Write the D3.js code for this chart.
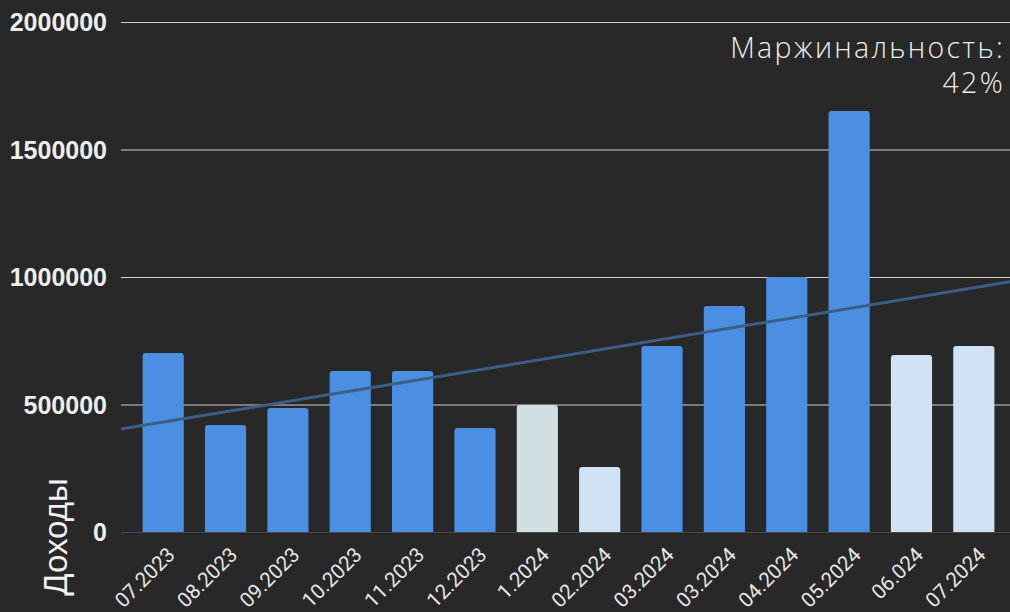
<!DOCTYPE html>
<html><head><meta charset="utf-8">
<script src="https://cdn.jsdelivr.net/npm/d3@7"></script>
<style>
html,body{margin:0;padding:0;background:#282828;}
svg{display:block;}
</style></head>
<body>
<svg id="chart" width="1010" height="612"></svg>
<script>
const categories = ["07.2023","08.2023","09.2023","10.2023","11.2023","12.2023","1.2024","02.2024","03.2024","03.2024","04.2024","05.2024","06.024","07.2024"];
const values = [702000,420000,486000,631000,631000,408000,498000,255000,729000,886000,1000000,1651000,694000,729000];
const barColors = ["#4a8fe2","#4a8fe2","#4a8fe2","#4a8fe2","#4a8fe2","#4a8fe2","#d1dfe3","#cfe2f3","#4a8fe2","#4a8fe2","#4a8fe2","#4a8fe2","#cfe2f3","#cfe2f3"];
const yTicks = [0,500000,1000000,1500000,2000000];
const yTitle = "Доходы";
const annotation = ["Маржинальность:", "42%"];

const svg = d3.select("#chart");
const W = 1010, H = 612;
const plotLeft = 121, plotRight = 1010, plotTop = 22, plotBottom = 532;

svg.append("rect").attr("width", W).attr("height", H).attr("fill", "#282828");

const idx = categories.map((d,i)=>i);
const x = d3.scaleBand().domain(idx).range([132, 1005]).paddingInner(0.34).paddingOuter(0.17);
const y = d3.scaleLinear().domain([0, 2000000]).range([plotBottom, plotTop]);

// gridlines
svg.append("g").selectAll("line").data(yTicks.filter(d=>d>0)).join("line")
  .attr("x1", plotLeft).attr("x2", plotRight)
  .attr("y1", d=>y(d)+0.5).attr("y2", d=>y(d)+0.5)
  .attr("stroke", "#d0d0d0").attr("stroke-width", 1);

// y tick labels
svg.append("g").selectAll("text").data(yTicks).join("text")
  .attr("x", 107).attr("y", d=>y(d))
  .attr("dy", "0.36em")
  .attr("text-anchor", "end")
  .attr("fill", "#eeeeee")
  .attr("font-family", "'Liberation Sans', Arial, sans-serif")
  .attr("font-weight", "bold")
  .attr("font-size", 25)
  .text(d=>d);

// bars with rounded top corners
const r = 3;
svg.append("g").selectAll("path").data(values).join("path")
  .attr("d", (d,i)=>{
    const x0 = x(i), w = x.bandwidth(), y0 = y(d), y1 = y(0);
    return `M${x0},${y1}V${y0+r}Q${x0},${y0} ${x0+r},${y0}H${x0+w-r}Q${x0+w},${y0} ${x0+w},${y0+r}V${y1}Z`;
  })
  .attr("fill", (d,i)=>barColors[i]);

// baseline
svg.append("line").attr("x1", plotLeft).attr("x2", plotRight)
  .attr("y1", y(0)+0.5).attr("y2", y(0)+0.5)
  .attr("stroke", "#4a4a4a").attr("stroke-width", 1.2);

// linear trendline (least squares on index)
const n = values.length;
const mx = d3.mean(idx), my = d3.mean(values);
const slope = d3.sum(idx, i=>(i-mx)*(values[i]-my)) / d3.sum(idx, i=>(i-mx)*(i-mx));
const icpt = my - slope*mx;
const idxToPx = d3.scaleLinear().domain([0, n-1]).range([x(0)+x.bandwidth()/2, x(n-1)+x.bandwidth()/2]);
const pxToIdx = idxToPx.invert;
const tl = [plotLeft, plotRight].map(px => [px, y(icpt + slope*pxToIdx(px))]);
svg.append("path").attr("d", d3.line()(tl))
  .attr("stroke", "#3c5e86").attr("stroke-width", 3).attr("fill", "none");

// x labels
svg.append("g").selectAll("text").data(categories).join("text")
  .attr("transform", (d,i)=>`translate(${x(i)+x.bandwidth()/2+13},${556}) rotate(-45)`)
  .attr("text-anchor", "end")
  .attr("fill", "#e6e6e6")
  .attr("font-family", "Roboto, 'Noto Sans', sans-serif")
  .attr("font-size", 20.5)
  .text(d=>d);

// y title
svg.append("text")
  .attr("transform", `translate(67,537) rotate(-90)`)
  .attr("text-anchor", "middle")
  .attr("fill", "#f2f2f2")
  .attr("font-family", "'Liberation Sans', Arial, sans-serif")
  .attr("font-size", 33)
  .text(yTitle);

// annotation
svg.append("g").selectAll("text").data(annotation).join("text")
  .attr("x", 1005).attr("y", (d,i)=>58 + i*35)
  .attr("text-anchor", "end")
  .attr("fill", "#eeeeee")
  .attr("font-family", "'Open Sans', sans-serif")
  .attr("font-weight", 300)
  .attr("font-size", 28.5)
  .attr("letter-spacing", 2.3)
  .text(d=>d);
</script>
</body></html>
